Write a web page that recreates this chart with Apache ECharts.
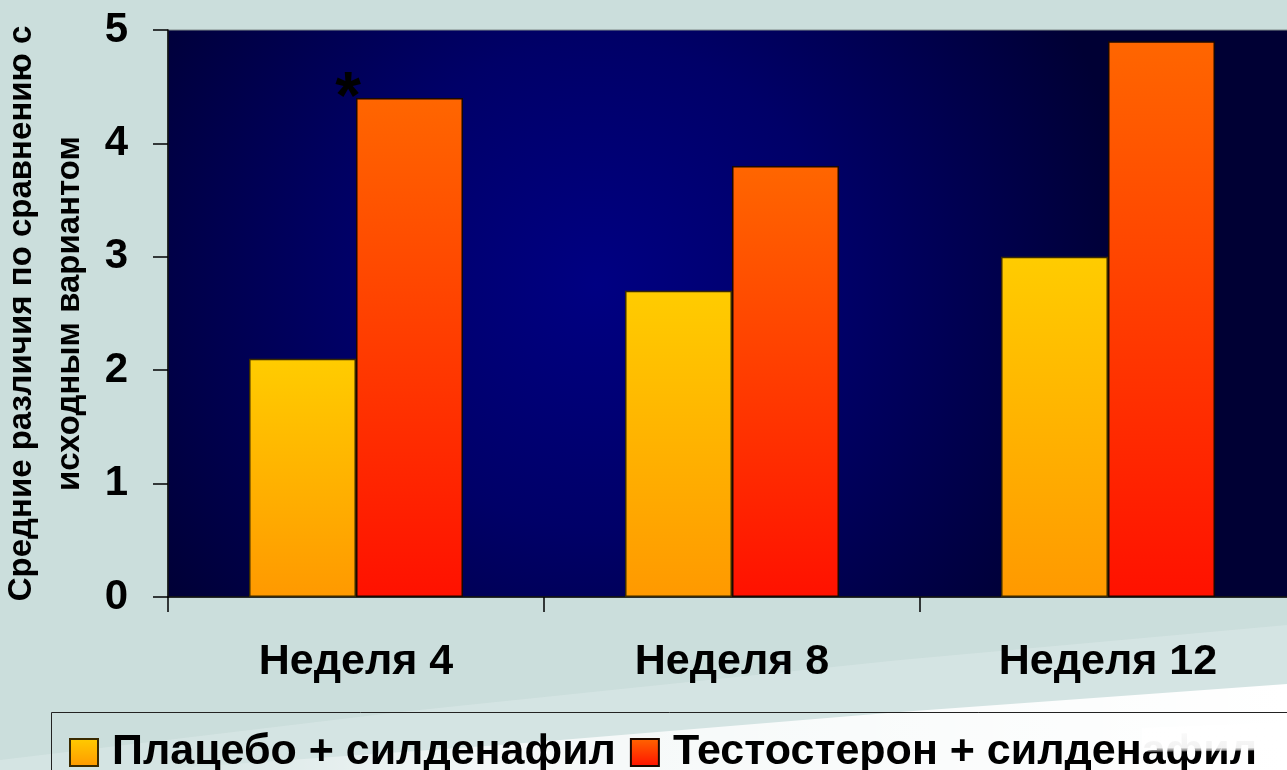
<!DOCTYPE html>
<html>
<head>
<meta charset="utf-8">
<script src="https://cdn.jsdelivr.net/npm/echarts@6/dist/echarts.min.js"></script>
<style>
html,body{margin:0;padding:0;width:1287px;height:770px;overflow:hidden;background:#cbdedc;}
#c{width:1287px;height:770px;}
</style>
</head>
<body>
<div id="c"></div>
<script>
const categories = ['Неделя 4', 'Неделя 8', 'Неделя 12'];
const placeboValues = [2.1, 2.7, 3.0];
const testoValues = [4.4, 3.8, 4.9];
const seriesNames = ['Плацебо + силденафил', 'Тестостерон + силденафил'];
const yTitleLines = ['Средние различия по сравнению с', 'исходным вариантом'];
const yTicks = [0, 1, 2, 3, 4, 5];

const chart = echarts.init(document.getElementById('c'), null, {renderer: 'canvas'});
const FONT = '"Liberation Sans", Arial, sans-serif';

function lin(x, y, x2, y2, stops) {
  return {type: 'linear', x: x, y: y, x2: x2, y2: y2,
    colorStops: stops.map(s => ({offset: s[0], color: s[1]}))};
}

const yellowGrad = lin(0, 0, 0, 1, [[0, '#ffcc00'], [1, '#ff9900']]);
const redGrad = lin(0, 0, 0, 1, [[0, '#ff6600'], [1, '#ff1100']]);

const option = {
  backgroundColor: '#cbdedc',
  animation: false,
  grid: {
    left: 168, top: 30, width: 1128, height: 567, containLabel: false,
    outerBoundsMode: 'none',
    show: true, borderColor: '#7f8a8a', borderWidth: 1,
    backgroundColor: {
      type: 'radial', x: 0.38, y: 0.45, r: 0.95,
      colorStops: [
        {offset: 0, color: '#000082'},
        {offset: 0.45, color: '#000068'},
        {offset: 1, color: '#000034'}
      ]
    }
  },
  legend: {
    left: 64, top: 726,
    itemWidth: 28, itemHeight: 27, itemGap: 14,
    icon: 'rect',
    data: seriesNames,
    textStyle: {fontFamily: FONT, fontWeight: 'bold', fontSize: 43, color: '#000', padding: [0, 0, 0, 9]},
    selectedMode: false
  },
  xAxis: {
    type: 'category',
    data: categories,
    axisLine: {lineStyle: {color: '#000', width: 1.5}},
    axisTick: {show: true, length: 15, lineStyle: {color: '#000', width: 1.5}},
    axisLabel: {fontFamily: FONT, fontWeight: 'bold', fontSize: 43, color: '#000', margin: 44},
    splitLine: {show: false}
  },
  yAxis: {
    type: 'value', min: 0, max: 5, interval: 1,
    name: yTitleLines.join('\n'),
    nameLocation: 'middle', nameRotate: 90, nameGap: 49,
    nameTextStyle: {fontFamily: FONT, fontWeight: 'bold', fontSize: 33, lineHeight: 48, color: '#000', align: 'center'},
    axisLine: {show: true, lineStyle: {color: '#000', width: 1.5}},
    axisTick: {show: true, length: 15, lineStyle: {color: '#000', width: 1.5}},
    axisLabel: {fontFamily: FONT, fontWeight: 'bold', fontSize: 42, color: '#000', margin: 40,
      formatter: v => yTicks.includes(v) ? String(v) : ''},
    splitLine: {show: false}
  },
  series: [
    {
      name: seriesNames[0], type: 'bar', data: placeboValues,
      barWidth: 107, barGap: '0%',
      itemStyle: {color: yellowGrad, borderColor: '#3a2a00', borderWidth: 1.5}
    },
    {
      name: seriesNames[1], type: 'bar', data: testoValues,
      barWidth: 107, barGap: '0%',
      itemStyle: {color: redGrad, borderColor: '#1a0800', borderWidth: 1.5}
    }
  ],
  graphic: [
    {
      type: 'polygon', z: -11, silent: true,
      shape: {points: [[0, 760], [400, 712], [900, 660], [1287, 625], [1287, 770], [0, 770]]},
      style: {fill: 'rgba(225,236,236,0.45)'}
    },
    {
      type: 'polygon', z: -10, silent: true,
      shape: {points: [[150, 770], [500, 745], [900, 712], [1287, 684], [1287, 770]]},
      style: {fill: lin(0, 0, 1, 0, [[0, 'rgba(255,255,255,0)'], [0.3, 'rgba(255,255,255,0.75)'], [1, 'rgba(255,255,255,1)']])}
    },
    {
      type: 'rect', silent: true, z: 5,
      shape: {x: 51.5, y: 712.5, width: 1300, height: 120},
      style: {fill: 'none', stroke: '#222', lineWidth: 1}
    },
    {
      type: 'polygon', silent: true, z: 50,
      shape: {points: [[1142, 728], [1287, 722], [1287, 750], [1142, 752]]},
      style: {fill: lin(0, 0, 0, 1, [[0, 'rgba(255,255,255,1)'], [0.85, 'rgba(255,255,255,0.95)'], [1, 'rgba(255,255,255,0.3)']])}
    },
    {
      type: 'text', z: 20, silent: true,
      x: 348, y: 100,
      style: {text: '*', font: 'bold 66px "Liberation Sans", Arial, sans-serif', fill: '#000',
        align: 'center', verticalAlign: 'middle'}
    }
  ]
};
chart.setOption(option);
</script>
</body>
</html>
